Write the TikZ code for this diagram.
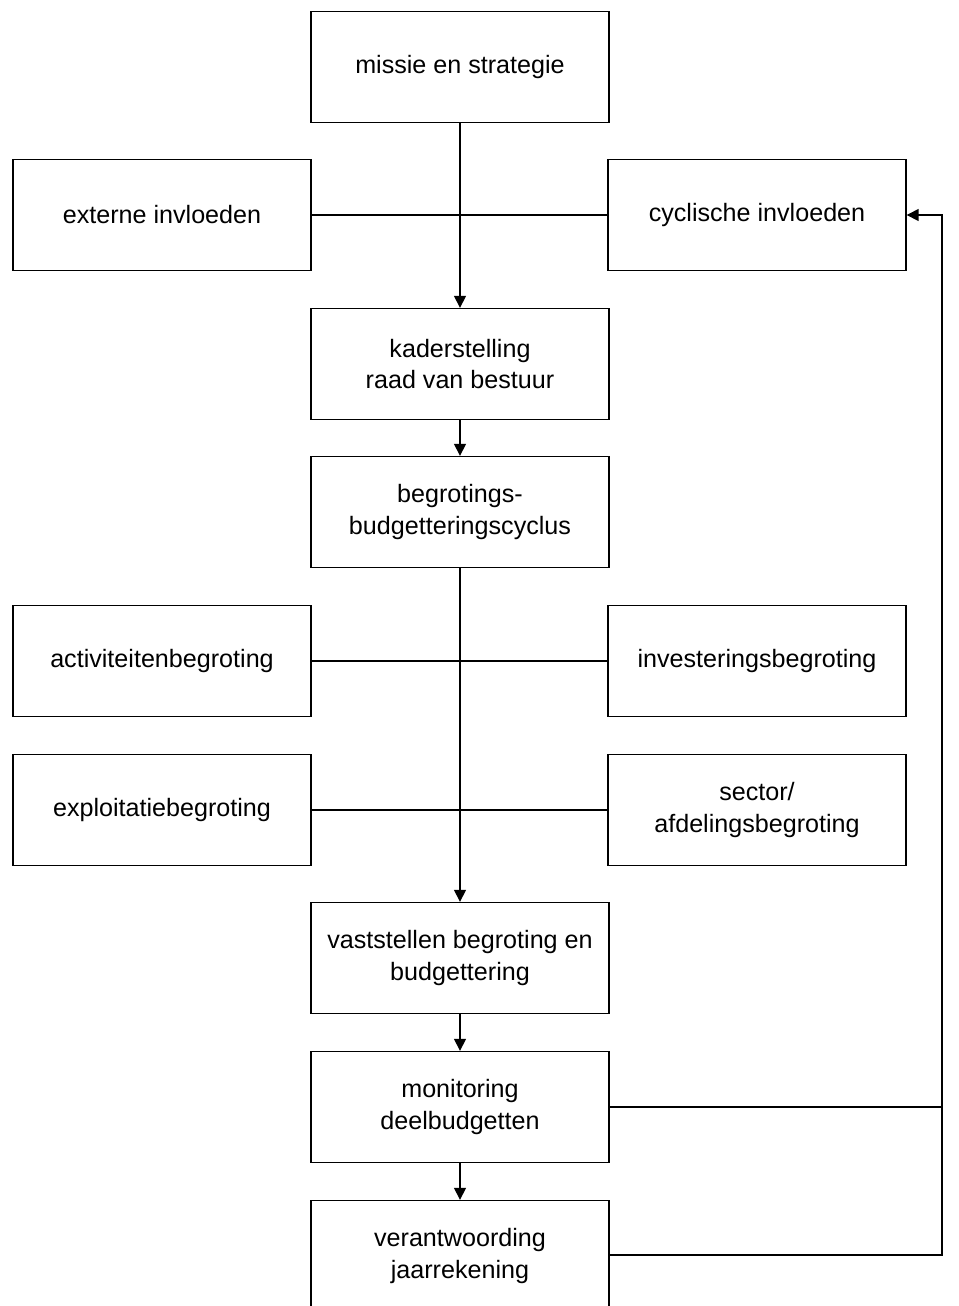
\documentclass[tikz,border=0pt]{standalone}
\usepackage{fontspec}
\setmainfont{Liberation Sans}
\usetikzlibrary{arrows.meta}
\usetikzlibrary{positioning}

\begin{document}
\begin{tikzpicture}[x=0.02cm,y=-0.02cm,
    box/.style={draw, line width=0.8pt, fill=white, minimum width=5.96cm, minimum height=2.22cm,
      align=center, font=\fontsize{14.3}{18.2}\selectfont},
    flow/.style={line width=0.8pt, -{Triangle[length=0.24cm,width=0.24cm]}},
    link/.style={line width=0.8pt}]
    \clip (0,0) rectangle (959,1306);
    % main column
    \node[box] (missie) at (460,67) {missie en strategie};
    \node[box] (kader) at (460,364) {kaderstelling\\raad van bestuur};
    \node[box] (begroting) at (460,512) {begrotings-\\budgetteringscyclus};
    \node[box] (vaststellen) at (460,958) {vaststellen begroting en\\budgettering};
    \node[box] (monitoring) at (460,1107) {monitoring\\deelbudgetten};
    \node[box] (verantwoording) at (460,1256) {verantwoording\\jaarrekening};
    % side boxes
    \node[box] (extern) at (162,215) {externe invloeden};
    \node[box] (cyclisch) at (757,215) {cyclische invloeden};
    \node[box] (activiteit) at (162,661) {activiteitenbegroting};
    \node[box] (investering) at (757,661) {investeringsbegroting};
    \node[box] (exploitatie) at (162,810) {exploitatiebegroting};
    \node[box] (sector) at (757,810) {sector/\\afdelingsbegroting};
    \coordinate (terug) at (942,1255);

    \draw[link] (extern) -- (cyclisch);
    \draw[link] (activiteit) -- (investering);
    \draw[link] (exploitatie) -- (sector);
    \draw[flow] (missie) -- (kader);
    \draw[flow] (kader) -- (begroting);
    \draw[flow] (begroting) -- (vaststellen);
    \draw[flow] (vaststellen) -- (monitoring);
    \draw[flow] (monitoring) -- (verantwoording);
    % feedback loop
    \draw[link] (monitoring.east) -- (monitoring.east -| terug);
    \draw[flow] (verantwoording.east |- terug) -- (terug) |- (cyclisch.east);
\end{tikzpicture}
\end{document}
